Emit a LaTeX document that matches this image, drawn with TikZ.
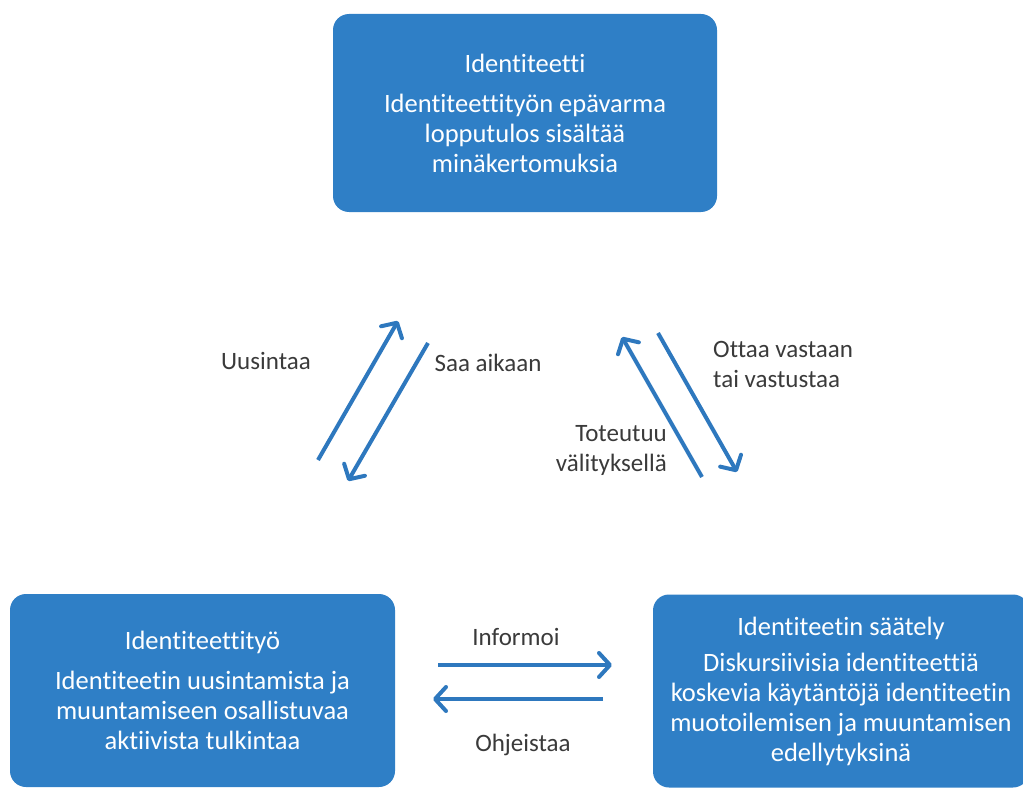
\documentclass[tikz,border=0pt]{standalone}
\usepackage{fontspec}
\setmainfont{Carlito}[Ligatures=NoCommon]
\usetikzlibrary{arrows.meta}
\definecolor{boxblue}{HTML}{2F7FC6}
\definecolor{arrowblue}{HTML}{2E78BE}
\definecolor{labelgray}{HTML}{3A3A3A}
\tikzset{
  concept/.style={fill=boxblue, rounded corners=16pt, text=white, align=center,
    inner sep=0pt, font=\fontsize{26.5}{30}\selectfont},
  flow/.style={draw=arrowblue, line width=4pt,
    -{Straight Barb[length=11pt, width=24pt, line cap=round, line join=round]}},
  lbl/.style={text=labelgray, font=\fontsize{25}{30}\selectfont, inner sep=0pt}
}
\begin{document}
\begin{tikzpicture}[x=1pt, y=-1pt]
\useasboundingbox (0,0) rectangle (1023,789);

% the three concepts
\node[concept, minimum width=384pt, minimum height=198pt] (ident) at (525,113)
  {Identiteetti\\[10pt]Identiteettityön epävarma\\lopputulos sisältää\\minäkertomuksia};
\node[concept, minimum width=385pt, minimum height=193pt] (work) at (202.5,690.5)
  {Identiteettityö\\[10pt]Identiteetin uusintamista ja\\muuntamiseen osallistuvaa\\aktiivista tulkintaa};
\node[concept, minimum width=376pt, minimum height=193pt] (reg) at (841,691)
  {Identiteetin säätely\\[6pt]Diskursiivisia identiteettiä\\koskevia käytäntöjä identiteetin\\muotoilemisen ja muuntamisen\\edellytyksinä};

% arrow end points
\coordinate (a1s) at (318,460); \coordinate (a1e) at (398,321);
\coordinate (a2s) at (428,343); \coordinate (a2e) at (348,481);
\coordinate (a3s) at (702,477); \coordinate (a3e) at (622,337);
\coordinate (a4s) at (658,333); \coordinate (a4e) at (737,472);
\coordinate (a5s) at (438,665); \coordinate (a5e) at (612,665);
\coordinate (a6s) at (603,699); \coordinate (a6e) at (433,699);

\draw[flow] (a1s) -- (a1e);
\draw[flow] (a2s) -- (a2e);
\draw[flow] (a3s) -- (a3e);
\draw[flow] (a4s) -- (a4e);
\draw[flow] (a5s) -- (a5e);
\draw[flow] (a6s) -- (a6e);

% labels
\node[lbl] (l1) at (266,361) {Uusintaa};
\node[lbl] (l2) at (488,363) {Saa aikaan};
\node[lbl, anchor=west, align=left] (l3) at (713,364) {Ottaa vastaan\\tai vastustaa};
\node[lbl, anchor=east, align=right] (l4) at (667,450) {Toteutuu\\välityksellä};
\node[lbl] (l5) at (516,637) {Informoi};
\node[lbl] (l6) at (523,745) {Ohjeistaa};
\end{tikzpicture}
\end{document}
